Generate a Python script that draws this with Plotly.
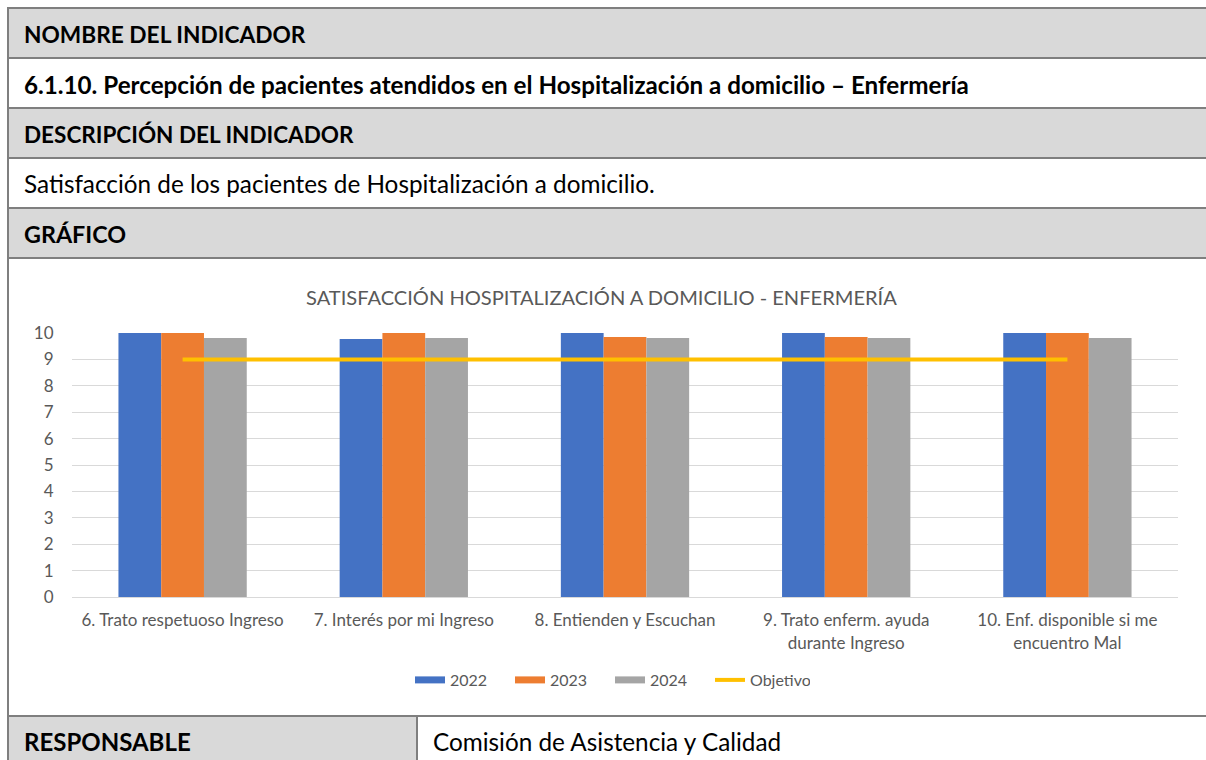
import plotly.graph_objects as go

W, H = 1206, 760

categorias = [
    "6. Trato respetuoso Ingreso",
    "7. Interés por mi Ingreso",
    "8. Entienden y Escuchan",
    "9. Trato enferm. ayuda<br>durante Ingreso",
    "10. Enf. disponible si me<br>encuentro Mal",
]
valores_2022 = [10.0, 9.77, 10.0, 10.0, 10.0]
valores_2023 = [10.0, 10.0, 9.85, 9.85, 10.0]
valores_2024 = [9.81, 9.81, 9.81, 9.81, 9.81]
objetivo = [9, 9, 9, 9, 9]
y_ticks = list(range(0, 11))

series = [
    ("2022", valores_2022, "#4472C4"),
    ("2023", valores_2023, "#ED7D31"),
    ("2024", valores_2024, "#A5A5A5"),
]

FONT = "Lato"
TXT = "#595959"
BORDER = "#7F7F7F"
HEAD = "#D9D9D9"


def px(x):
    return x / W


def py(y):
    return 1 - y / H


fig = go.Figure()

for name, vals, col in series:
    fig.add_trace(go.Bar(
        x=categorias, y=vals, name=name, marker_color=col,
        marker_line_width=0, showlegend=False, legendgroup=name,
    ))

# legend entries drawn as thick strokes (Excel-like swatches)
for name, vals, col in series:
    fig.add_trace(go.Scatter(
        x=[None], y=[None], mode="lines", name=name, legendgroup=name,
        line=dict(color=col, width=7), hoverinfo="skip",
    ))

fig.add_trace(go.Scatter(
    x=categorias, y=objetivo, mode="lines", name="Objetivo",
    line=dict(color="#FFC000", width=4),
))

shapes = []
rows = [(8, 58, HEAD), (58, 108, "white"), (108, 158, HEAD), (158, 208, "white"),
        (208, 258, HEAD), (258, 716, "white")]
for y0, y1, f in rows:
    shapes.append(dict(type="rect", xref="paper", yref="paper", x0=px(8), x1=px(1215),
                       y0=py(y1), y1=py(y0), fillcolor=f, line_width=0, layer="below"))
shapes.append(dict(type="rect", xref="paper", yref="paper", x0=px(8), x1=px(417),
                   y0=py(770), y1=py(716), fillcolor=HEAD, line_width=0, layer="below"))
for yy in [8, 58, 108, 158, 208, 258, 716]:
    shapes.append(dict(type="line", xref="paper", yref="paper", x0=px(7), x1=px(1215),
                       y0=py(yy), y1=py(yy), line=dict(color=BORDER, width=2), layer="above"))
shapes.append(dict(type="line", xref="paper", yref="paper", x0=px(8), x1=px(8),
                   y0=py(7), y1=py(770), line=dict(color=BORDER, width=2), layer="above"))
shapes.append(dict(type="line", xref="paper", yref="paper", x0=px(417), x1=px(417),
                   y0=py(716), y1=py(770), line=dict(color=BORDER, width=2), layer="above"))

annotations = []


def cell_text(txt, x, yc, bold=False, size=23):
    annotations.append(dict(
        text=f"<b>{txt}</b>" if bold else txt, xref="paper", yref="paper",
        x=px(x), y=py(yc), xanchor="left", yanchor="middle", showarrow=False,
        font=dict(family=FONT, size=size, color="#000000"),
    ))


cell_text("NOMBRE DEL INDICADOR", 22, 34, bold=True, size=22.7)
cell_text("6.1.10. Percepción de pacientes atendidos en el Hospitalización a domicilio – Enfermería",
          22, 84, bold=True, size=24.2)
cell_text("DESCRIPCIÓN DEL INDICADOR", 22, 134, bold=True, size=22.5)
cell_text("Satisfacción de los pacientes de Hospitalización a domicilio.", 22, 184, size=24.3)
cell_text("GRÁFICO", 22, 234, bold=True, size=23.3)
cell_text("RESPONSABLE", 22, 741, bold=True, size=24)
cell_text("Comisión de Asistencia y Calidad", 431, 741, size=24.3)

annotations.append(dict(
    text="SATISFACCIÓN HOSPITALIZACIÓN A DOMICILIO - ENFERMERÍA", xref="paper", yref="paper",
    x=px(601), y=py(297), xanchor="center", yanchor="middle", showarrow=False,
    font=dict(family=FONT, size=20.1, color=TXT),
))

fig.update_layout(
    template="none",
    width=W, height=H, margin=dict(l=0, r=0, t=0, b=0, pad=0, autoexpand=False),
    paper_bgcolor="white", plot_bgcolor="rgba(0,0,0,0)",
    barmode="group", bargap=0.42, bargroupgap=0,
    font=dict(family=FONT, size=16, color=TXT),
    shapes=shapes, annotations=annotations,
    showlegend=True,
    legend=dict(orientation="h", x=px(410), xanchor="left", y=py(680), yanchor="middle",
                font=dict(family=FONT, size=16, color=TXT), bgcolor="rgba(0,0,0,0)",
                entrywidth=55, tracegroupgap=0),
    xaxis=dict(domain=[px(72), px(1178)], showgrid=False, showline=False, zeroline=False,
               automargin=False,
               ticks="outside", ticklen=8, tickcolor="rgba(0,0,0,0)",
               tickfont=dict(family=FONT, size=17, color=TXT), fixedrange=True),
    yaxis=dict(domain=[py(597), py(333)], range=[0, 10], tickvals=y_ticks,
               automargin=False,
               showgrid=True, gridcolor="#D9D9D9", gridwidth=1,
               zeroline=True, zerolinecolor="#D9D9D9", zerolinewidth=1, showline=False,
               ticks="outside", ticklen=14, tickcolor="rgba(0,0,0,0)",
               tickfont=dict(family=FONT, size=17, color=TXT), fixedrange=True),
)

fig.write_html(
    "out.html",
    config={"displayModeBar": False},
    post_script="document.body.style.margin='0';document.body.style.overflow='hidden';",
)
